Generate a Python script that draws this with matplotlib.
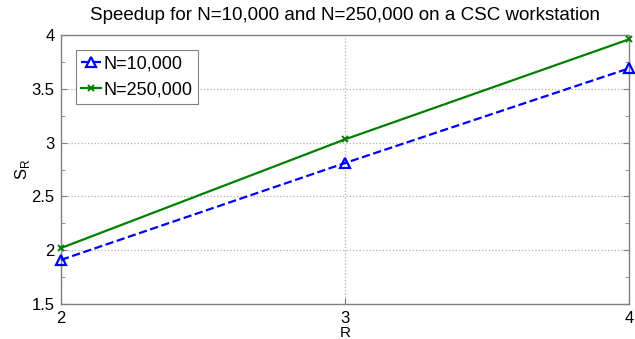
import matplotlib
matplotlib.use("Agg")
import matplotlib.pyplot as plt
from matplotlib.ticker import MultipleLocator

# data
R = [2, 3, 4]
speedup_10k = [1.91, 2.81, 3.69]
speedup_250k = [2.02, 3.03, 3.96]

plt.rcParams['font.family'] = ['Liberation Sans', 'DejaVu Sans']

fig = plt.figure(figsize=(6.35, 3.39), dpi=100)
ax = fig.add_axes([61/635, 35/339, 568/635, 269/339])

ax.plot(R, speedup_10k, color='blue', linestyle='--', linewidth=1.6,
        marker='^', markersize=7, markerfacecolor='none', markeredgewidth=1.6,
        label='N=10,000', clip_on=False, zorder=3)
ax.plot(R, speedup_250k, color='#008000', linestyle='-', linewidth=1.6,
        marker='x', markersize=5, markeredgewidth=1.4,
        label='N=250,000', clip_on=False, zorder=3)

ax.set_xlim(2, 4)
ax.set_ylim(1.5, 4)
ax.set_xticks([2, 3, 4])
ax.set_yticks([1.5, 2, 2.5, 3, 3.5, 4])
ax.set_yticklabels(['1.5', '2', '2.5', '3', '3.5', '4'])
ax.yaxis.set_minor_locator(MultipleLocator(0.25))
ax.tick_params(which='both', direction='in', right=True, top=False,
               labelsize=12, colors='black')
ax.tick_params(which='major', length=4, color='#808080')
ax.tick_params(which='minor', length=3, color='#808080')
ax.tick_params(axis='x', pad=5)
ax.tick_params(axis='y', pad=4.5)
ax.grid(True, which='major', linestyle=':', color='#b0b0b0', linewidth=0.9)
for s in ax.spines.values():
    s.set_color('#808080')
    s.set_linewidth(1.0)

ax.set_title('Speedup for N=10,000 and N=250,000 on a CSC workstation',
             fontsize=13.5, pad=11)
ax.set_xlabel('R', fontsize=11, labelpad=0)
ax.set_ylabel('S$_\\mathregular{R}$', fontsize=12, labelpad=0)

leg = ax.legend(loc='upper left', bbox_to_anchor=(15/568, 1 - 15/269),
                fontsize=13, fancybox=False, framealpha=1, edgecolor='#808080',
                handlelength=1.1, handletextpad=0.15, borderpad=0.3,
                labelspacing=0.5, borderaxespad=0)
leg.get_frame().set_linewidth(0.8)

fig.savefig('out.png', dpi=100)
